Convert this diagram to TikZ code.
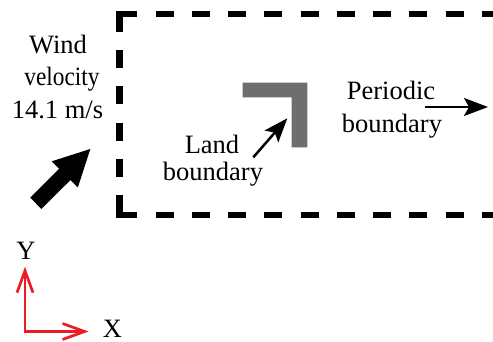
\documentclass[tikz,border=0pt]{standalone}
\usepackage{fontspec}
\setmainfont{Liberation Serif}
\usetikzlibrary{arrows.meta}
\definecolor{axred}{RGB}{235,28,36}
\definecolor{landgray}{RGB}{110,110,112}
\tikzset{
  lbl/.style={anchor=base, inner sep=0pt, font=\fontsize{26.5}{30}\selectfont, text=black},
  boxdash/.style={line width=6.5pt, dash pattern=on 18pt off 18.25pt, dash phase=0pt},
  boxcorner/.style={line width=6.5pt, line join=miter},
  windarrow/.style={line width=16pt, -{Triangle[length=37pt,width=34pt]}},
  thinarrow/.style={line width=2.5pt, -{Stealth[length=24pt,width=18pt,inset=5pt]}},
  axisarrow/.style={axred, line width=2.7pt, line join=miter,
     {Straight Barb[length=22pt,width=16pt]}-{Straight Barb[length=22pt,width=16pt]}}
}
\begin{document}
\begin{tikzpicture}[x=1pt,y=-1pt]
\useasboundingbox (0,0) rectangle (493,342);
\clip (0,0) rectangle (493,342);
\fill[white] (0,0) rectangle (493,342);

% dashed domain box
\coordinate (cTL) at (119.3,14);
\coordinate (cBL) at (119.3,215);
\coordinate (cTR) at (540,14);
\coordinate (cBR) at (540,215);
\draw[boxdash] (cTL) -- (cTR);
\draw[boxdash] (cTL) -- (cBL);
\draw[boxdash] (cBL) -- (cBR);
\draw[boxcorner] (119.3,31.7) -- (cTL) -- (136.8,14);
\draw[boxcorner] (119.3,197) -- (cBL) -- (136.8,215);

% land boundary (gray L)
\fill[landgray] (242.7,82.7) -- (307.3,82.7) -- (307.3,147.3) -- (291.7,147.3)
   -- (291.7,97.3) -- (242.7,97.3) -- cycle;
\coordinate (landtip) at (287.3,118.3);

% wind label and arrow
\node[lbl] (wind1) at (58,53.3) {Wind};
\node[lbl] (wind2) at (62,85.7) {\scalebox{0.88}[1]{velocity}};
\node[lbl] (wind3) at (57.5,118.3) {14.1 m/s};
\coordinate (wtail) at (35.8,203.3);
\coordinate (wtip) at (91,148.3);
\draw[windarrow] (wtail) -- (wtip);

% land label and arrow
\node[lbl] (land1) at (212,153.3) {Land};
\node[lbl] (land2) at (213,181) {boundary};
\coordinate (ltail) at (253.3,157.3);
\draw[thinarrow] (ltail) -- (landtip);

% periodic label and arrow
\node[lbl] (per1) at (391,100) {Periodic};
\node[lbl] (per2) at (392,133) {boundary};
\coordinate (ptail) at (425,107);
\coordinate (ptip) at (488,107);
\draw[thinarrow] (ptail) -- (ptip);

% axes
\coordinate (origin) at (25,331.5);
\coordinate (ytip) at (25,266.7);
\coordinate (xtip) at (88.5,331.5);
\draw[axisarrow] (ytip) -- (origin) -- (xtip);
\node[lbl] (ylab) at (26,259) {Y};
\node[lbl] (xlab) at (112.5,337) {X};
\end{tikzpicture}
\end{document}
